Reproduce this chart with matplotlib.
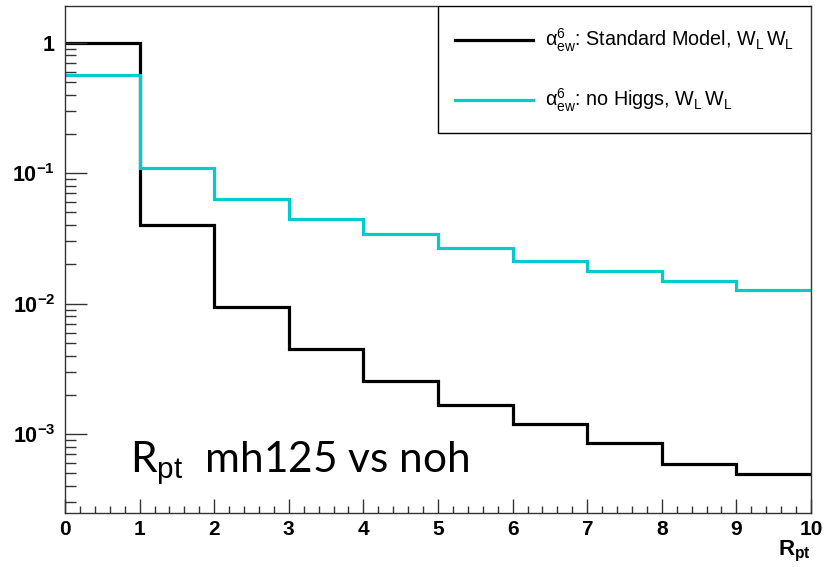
import numpy as np
import matplotlib
matplotlib.use("Agg")
import matplotlib.pyplot as plt
from matplotlib.patches import Rectangle
from matplotlib.lines import Line2D
from matplotlib.ticker import FixedLocator, MultipleLocator, LogLocator, NullFormatter

plt.rcParams["font.family"] = ["Liberation Sans", "DejaVu Sans"]
plt.rcParams["mathtext.fontset"] = "custom"
plt.rcParams["mathtext.rm"] = "Liberation Sans"
plt.rcParams["mathtext.it"] = "Liberation Sans:italic"
plt.rcParams["mathtext.bf"] = "Liberation Sans:bold"

# Bin edges of R_pt and normalised distributions
bin_edges = np.arange(0, 11, 1)
sm_values = [0.99, 0.0401, 0.00948, 0.00448, 0.00256, 0.00168, 0.00119, 0.000851, 0.000588, 0.000493]
noh_values = [0.566, 0.110, 0.0634, 0.0446, 0.0340, 0.0265, 0.0214, 0.0178, 0.0150, 0.0127]

sm_label = (r"$\mathrm{\alpha}^{6}_{\mathrm{ew}}$: Standard Model, "
            r"W$_{\mathrm{L}}$$\,$W$_{\mathrm{L}}$")
noh_label = r"$\mathrm{\alpha}^{6}_{\mathrm{ew}}$: no Higgs, W$_{\mathrm{L}}$$\,$W$_{\mathrm{L}}$"

x_tick_values = list(range(0, 11))
y_tick_values = [1e-3, 1e-2, 1e-1, 1]
y_tick_labels = [r"$\mathbf{10^{-3}}$", r"$\mathbf{10^{-2}}$", r"$\mathbf{10^{-1}}$", r"$\mathbf{1}$"]

cyan = "#00cccc"
lw = 2.3

fig = plt.figure(figsize=(8.39, 5.67), dpi=100)
ax = fig.add_axes([65 / 839, 54 / 567, 746 / 839, 507 / 567])

ax.stairs(sm_values, bin_edges, color="black", linewidth=lw, baseline=None)
ax.stairs(noh_values, bin_edges, color=cyan, linewidth=lw, baseline=None)

ax.set_yscale("log")
ax.set_xlim(0, 10)
ax.set_ylim(2.49e-4, 1.91)

for s in ax.spines.values():
    s.set_linewidth(1.0)
    s.set_color("#333333")

ax.xaxis.set_major_locator(FixedLocator(x_tick_values))
ax.xaxis.set_minor_locator(MultipleLocator(0.2))
ax.set_xticklabels([str(v) for v in x_tick_values], fontweight="bold", fontsize=15)
ax.yaxis.set_major_locator(FixedLocator(y_tick_values))
ax.set_yticklabels(y_tick_labels, fontsize=15.5)
ax.yaxis.set_minor_locator(LogLocator(base=10, subs=np.arange(2, 10)))
ax.yaxis.set_minor_formatter(NullFormatter())

ax.tick_params(axis="x", which="major", direction="in", length=10, width=1, color="#333333",
               top=False, pad=5)
ax.tick_params(axis="x", which="minor", direction="in", length=5, width=1, color="#333333", top=False)
ax.tick_params(axis="y", which="major", direction="in", length=16, width=1, color="#333333",
               right=False, pad=7)
ax.tick_params(axis="y", which="minor", direction="in", length=8, width=1, color="#333333", right=False)

# axis title
ax.text(1.0, -0.052, r"$\mathbf{R_{pt}}$", transform=ax.transAxes, ha="right", va="top", fontsize=16)

# annotation
ax.text(130 / 839, (567 - 472) / 567, r"R$_{\mathrm{pt}}$  mh125 vs noh", transform=fig.transFigure,
        family="Lato", fontsize=30.5, ha="left", va="baseline")

# legend box
bx0 = (438 - 65) / 746
by0 = (513 - 133) / 507
ax.add_patch(Rectangle((bx0, by0), 1 - bx0, 1 - by0, transform=ax.transAxes,
                       facecolor="white", edgecolor="black", linewidth=1.0, zorder=5))
for handle_color, label, ypix in [("black", sm_label, 40), (cyan, noh_label, 100)]:
    yf = (513 - ypix) / 507
    ax.add_line(Line2D([(455 - 65) / 746, (533 - 65) / 746], [yf, yf], transform=ax.transAxes,
                       color=handle_color, linewidth=lw, zorder=6))
    ax.text((545 - 65) / 746, yf, label, transform=ax.transAxes, fontsize=14.2,
            ha="left", va="center", zorder=6)

fig.savefig("out.png", dpi=100)
